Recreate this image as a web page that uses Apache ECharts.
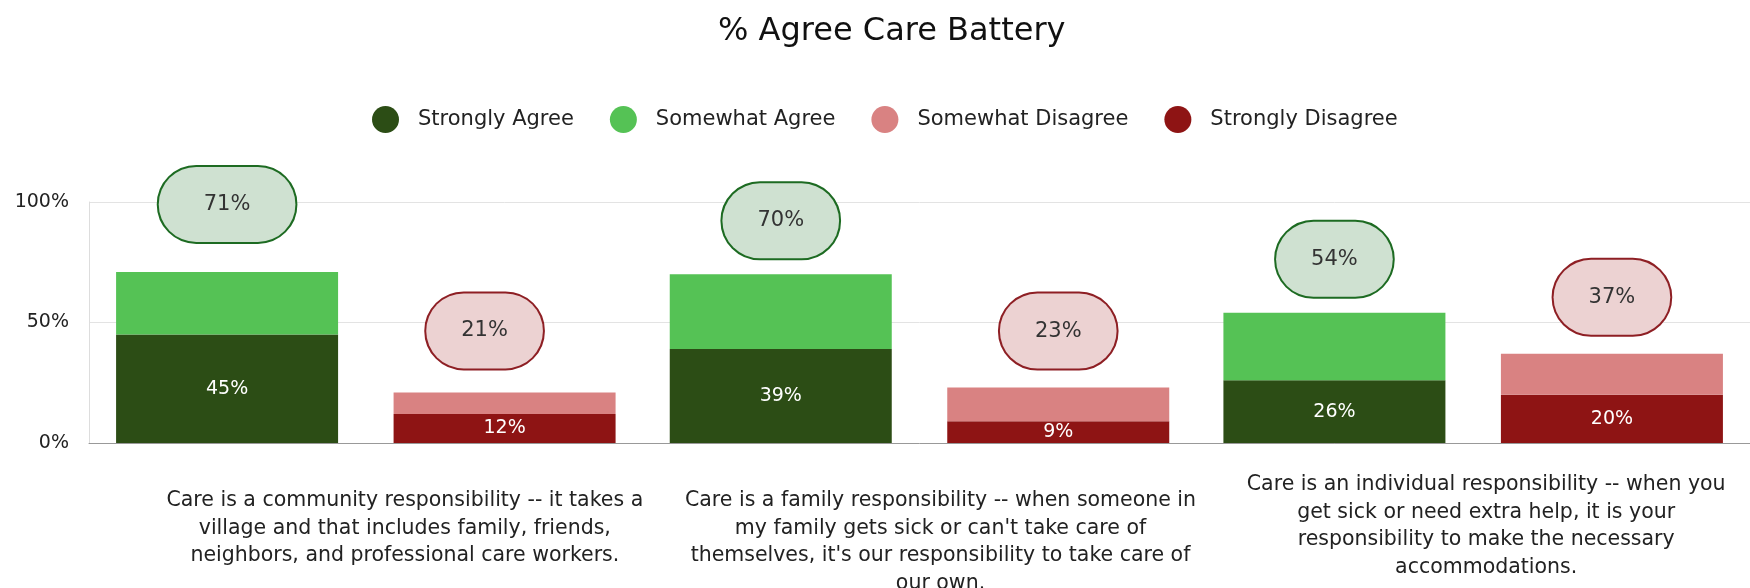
<!DOCTYPE html>
<html>
<head>
<meta charset="utf-8">
<script src="https://cdn.jsdelivr.net/npm/echarts@6/dist/echarts.min.js"></script>
<style>
  html, body { margin: 0; padding: 0; background: #fff; }
  #chart { width: 1750px; height: 588px; }
</style>
</head>
<body>
<div id="chart"></div>
<script>
// statements shown on the x axis
var categories = [
  'Care is a community responsibility -- it takes a\nvillage and that includes family, friends,\nneighbors, and professional care workers.',
  'Care is a family responsibility -- when someone in\nmy family gets sick or can\'t take care of\nthemselves, it\'s our responsibility to take care of\nour own.',
  'Care is an individual responsibility -- when you\nget sick or need extra help, it is your\nresponsibility to make the necessary\naccommodations.'
]
var stronglyAgree = [45, 39, 26]
var somewhatAgree = [26, 31, 28]
var somewhatDisagree = [9, 14, 17]
var stronglyDisagree = [12, 9, 20]
var yTicks = [0, 50, 100]

var FONT = 'DejaVu Sans'
// the axis labels in the original are not exactly centred under their groups
var labelPadding = [[0, 0, 0, 78], [0, 0, 0, 42], [-16, 0, 0, 26]]

var chart = echarts.init(document.getElementById('chart'))

function bubble(fill, border) {
  return {
    show: true,
    position: 'top',
    distance: 16,
    color: '#333',
    fontSize: 21,
    fontFamily: FONT,
    backgroundColor: fill,
    borderColor: border,
    borderWidth: 2,
    borderRadius: 38,
    padding: [27, 35]
  }
}

function inside() {
  return {
    show: true,
    position: 'inside',
    color: '#fff',
    fontSize: 19,
    fontFamily: FONT,
    formatter: '{c}%'
  }
}

var agreeBubble = bubble('#cfe1d1', '#1d6b22')
agreeBubble.formatter = function (p) {
  return (stronglyAgree[p.dataIndex] + somewhatAgree[p.dataIndex]) + '%'
}
var disagreeBubble = bubble('#ecd2d2', '#8e1f24')
disagreeBubble.distance = 19
disagreeBubble.formatter = function (p) {
  return (stronglyDisagree[p.dataIndex] + somewhatDisagree[p.dataIndex]) + '%'
}

chart.setOption({
  animation: false,
  title: {
    text: '% Agree Care Battery',
    left: 713,
    top: 11,
    textStyle: { fontFamily: FONT, fontSize: 32, fontWeight: 'normal', color: '#111' }
  },
  legend: {
    top: 101,
    left: 367,
    icon: 'circle',
    itemWidth: 27,
    itemHeight: 27,
    itemGap: 36,
    textStyle: { fontFamily: FONT, fontSize: 21, color: '#222', padding: [0, 0, 0, 14] },
    data: ['Strongly Agree', 'Somewhat Agree', 'Somewhat Disagree', 'Strongly Disagree']
  },
  grid: { left: 89, right: 0, top: 202, bottom: 145, containLabel: false, outerBoundsMode: 'none' },
  xAxis: {
    type: 'category',
    data: categories.map(function (c, i) {
      return { value: c, textStyle: { padding: labelPadding[i] } }
    }),
    axisTick: { show: false },
    axisLine: { lineStyle: { color: '#999' } },
    axisLabel: {
      interval: 0,
      margin: 44,
      color: '#222',
      fontFamily: FONT,
      fontSize: 20.5,
      lineHeight: 27.5
    }
  },
  yAxis: {
    type: 'value',
    min: yTicks[0],
    max: yTicks[yTicks.length - 1],
    interval: yTicks[1] - yTicks[0],
    axisLine: { show: true, lineStyle: { color: '#ddd' } },
    splitLine: { lineStyle: { color: '#e3e3e3' } },
    axisLabel: { formatter: '{value}%', margin: 20, color: '#222', fontFamily: FONT, fontSize: 19 }
  },
  series: [
    {
      name: 'Strongly Agree',
      type: 'bar',
      stack: 'agree',
      barWidth: 222,
      barGap: '25%',
      itemStyle: { color: '#2c4d15' },
      label: inside(),
      data: stronglyAgree
    },
    {
      name: 'Somewhat Agree',
      type: 'bar',
      stack: 'agree',
      barWidth: 222,
      itemStyle: { color: '#55c255' },
      label: agreeBubble,
      data: somewhatAgree.map(function (v, i) {
        // the first bubble sits higher and is a bit wider
        return i === 0 ? { value: v, label: { distance: 30, padding: [27, 45] } } : v
      })
    },
    {
      name: 'Strongly Disagree',
      type: 'bar',
      stack: 'disagree',
      barWidth: 222,
      itemStyle: { color: '#8e1414' },
      label: inside(),
      data: stronglyDisagree
    },
    {
      name: 'Somewhat Disagree',
      type: 'bar',
      stack: 'disagree',
      barWidth: 222,
      itemStyle: { color: '#d98282' },
      label: disagreeBubble,
      data: somewhatDisagree.map(function (v, i) {
        // the first red bubble is drawn a little left of its bar
        return i === 0 ? { value: v, label: { distance: 24, offset: [-20, 0] } } : v
      })
    }
  ]
})
</script>
</body>
</html>
